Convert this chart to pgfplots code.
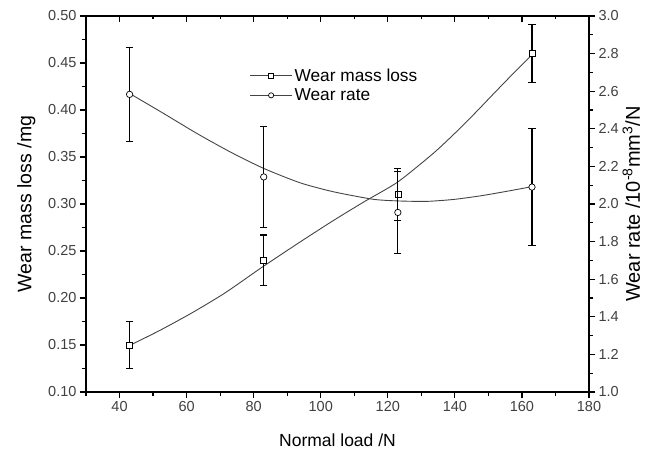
\documentclass[border=0pt]{standalone}
\usepackage{fontspec}
\setmainfont{Liberation Sans}
\usepackage{pgfplots}
\usepackage{pgfplotstable}
\pgfplotsset{compat=1.18}

\pgfplotstableread{
x y err
43 0.150 0.025
83 0.240 0.027
123 0.310 0.028
163 0.460 0.031
}\massdata
\pgfplotstableread{
x y err
43 2.583 0.25
83 2.144 0.27
123 1.955 0.22
163 2.090 0.31
}\ratedata
% fitted curves
\pgfplotstableread{
x y
43 0.1495
52 0.1655
61.5 0.1840
71.5 0.2055
82.4 0.2325
93.8 0.2595
103.8 0.2825
113 0.3025
123 0.3235
133.6 0.3540
140.5 0.3770
146.5 0.3985
152 0.4190
158 0.4410
162.9 0.4585
}\masscurve
\pgfplotstableread{
x y
43 2.588
53.1 2.482
63 2.376
72.9 2.278
82.9 2.190
93.8 2.113
103.8 2.065
115.7 2.025
123.6 2.016
131.6 2.014
139.5 2.024
147.5 2.043
155 2.066
162.9 2.092
}\ratecurve

\definecolor{curvegray}{HTML}{444444}

\pgfplotsset{
  common/.style={
    width=503pt, height=376pt, scale only axis,
    xmin=30, xmax=180,
    /pgf/number format/assume math mode=true,
    tick label style={font=\fontsize{14.5}{16}\selectfont, text=black!75},
    axis line style={line width=1.4pt},
    tick style={line width=1.2pt, black},
    major tick length=6pt, minor tick length=3.5pt,
    xtick={40,60,...,180}, minor xtick={30,50,...,170},
  },
}

\begin{document}
\begin{tikzpicture}
\useasboundingbox (-86pt,-59pt) rectangle (561pt,392pt);

% top axis ticks (inside)
\begin{axis}[common,
  axis x line*=top, axis y line=none,
  ymin=0, ymax=1,
  tick align=inside,
  xticklabels={},
]
\end{axis}

% left axis: wear mass loss
\begin{axis}[common,
  axis x line*=bottom, axis y line*=left,
  tick align=outside,
  ymin=0.10, ymax=0.50,
  ytick={0.10,0.15,0.20,0.25,0.30,0.35,0.40,0.45,0.50},
  minor ytick={0.125,0.175,0.225,0.275,0.325,0.375,0.425,0.475},
  yticklabel style={/pgf/number format/.cd, fixed, fixed zerofill, precision=2},
  xlabel={Normal load /N},
  ylabel={Wear mass loss /mg},
  xlabel style={at={(axis description cs:0.5,-0.128)}, anchor=center,
    font=\fontsize{17.5}{20}\selectfont},
  ylabel style={at={(axis description cs:-0.137,0.5)}, anchor=north, inner sep=0pt,
    font=\fontsize{19.5}{22}\selectfont},
  legend style={at={(rel axis cs:0.325,0.866)}, anchor=north west,
    draw=none, fill=none, inner sep=0pt, row sep=2pt,
    font=\fontsize{17.3}{19}\selectfont},
  legend cell align=left,
  legend image code/.code={\draw[mark repeat=2,mark phase=2,#1] plot coordinates {(0pt,0pt) (21pt,0pt) (42pt,0pt)};},
]
\addlegendimage{curvegray, line width=0.9pt, mark=square*, mark size=2.4pt, mark options={solid, draw=black, fill=white, line width=0.7pt}}
\addlegendentry{Wear mass loss}
\addlegendimage{curvegray, line width=0.9pt, mark=*, mark size=2.6pt, mark options={solid, draw=black, fill=white, line width=0.7pt}}
\addlegendentry{Wear rate}

\addplot[curvegray, line width=0.9pt, smooth, tension=0.4, forget plot] table[x=x, y=y] {\masscurve};
\addplot[only marks, mark=square*, mark size=3pt, forget plot,
  mark options={draw=black, fill=white, line width=0.7pt},
  error bars/.cd, y dir=both, y explicit,
  error bar style={black, line width=1.1pt},
  error mark options={rotate=90, mark size=3.6pt, black, line width=1.1pt}]
  table[x=x, y=y, y error=err] {\massdata};
\end{axis}

% right axis: wear rate
\begin{axis}[common,
  axis x line=none, axis y line*=right,
  tick align=outside,
  ymin=1.0, ymax=3.0,
  ytick={1.0,1.2,1.4,1.6,1.8,2.0,2.2,2.4,2.6,2.8,3.0},
  minor ytick={1.1,1.3,1.5,1.7,1.9,2.1,2.3,2.5,2.7,2.9},
  yticklabel style={/pgf/number format/.cd, fixed, fixed zerofill, precision=1},
  ylabel={Wear rate /10\textsuperscript{-8}mm\textsuperscript{3}/N},
  ylabel style={at={(axis description cs:1.102,0.5)}, anchor=south, inner sep=0pt,
    font=\fontsize{20}{22}\selectfont},
]
\addplot[curvegray, line width=0.9pt, smooth, tension=0.4, forget plot] table[x=x, y=y] {\ratecurve};
\addplot[only marks, mark=*, mark size=3.2pt, forget plot,
  mark options={draw=black, fill=white, line width=0.7pt},
  error bars/.cd, y dir=both, y explicit,
  error bar style={black, line width=1.1pt},
  error mark options={rotate=90, mark size=3.6pt, black, line width=1.1pt}]
  table[x=x, y=y, y error=err] {\ratedata};
\end{axis}
\end{tikzpicture}
\end{document}
